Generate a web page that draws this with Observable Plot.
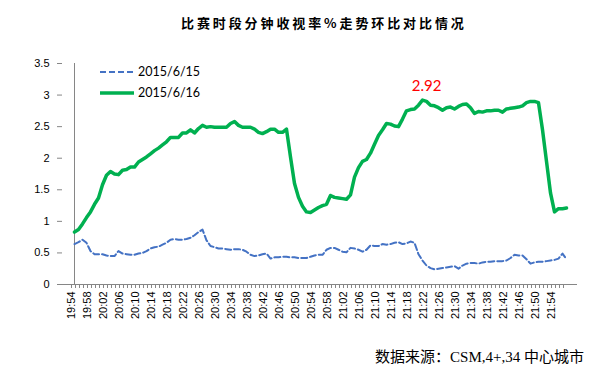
<!DOCTYPE html>
<html><head><meta charset="utf-8">
<script src="https://cdn.jsdelivr.net/npm/d3@7"></script>
<script src="https://cdn.jsdelivr.net/npm/@observablehq/plot@0.6"></script>
<style>
body{margin:0;background:#fff;}
#wrap{position:relative;width:594px;height:372px;overflow:hidden;font-family:"Liberation Sans",Arial,sans-serif;}
#wrap svg.chart{position:absolute;left:0;top:0;}
#title{position:absolute;left:181px;top:13px;font-family:"Noto Sans CJK SC",sans-serif;font-weight:bold;font-size:13px;letter-spacing:2.9px;color:#000;white-space:nowrap;}
#legend{position:absolute;left:100px;top:61px;font-family:Lato,"Liberation Sans",sans-serif;font-size:12.5px;color:#000;}
#legend .row{display:flex;align-items:center;height:21px;}
#legend svg{margin-right:4px;}
#caption{position:absolute;right:10px;top:345px;font-family:"Liberation Serif","Noto Sans CJK SC",serif;font-size:15px;color:#000;white-space:nowrap;}
</style></head><body>
<div id="wrap">
  <div id="title">比赛时段分钟收视率%走势环比对比情况</div>
  <div id="caption">数据来源：CSM,4+,34 中心城市</div>
</div>
<script>
const startTime = "19:54";
const seriesNames = ["2015/6/15", "2015/6/16"];
const seriesColors = ["#4472C4", "#00B050"];
const yTicks = [0, 0.5, 1, 1.5, 2, 2.5, 3, 3.5];
const xTickLabels = ["19:54","19:58","20:02","20:06","20:10","20:14","20:18","20:22","20:26","20:30","20:34","20:38","20:42","20:46","20:50","20:54","20:58","21:02","21:06","21:10","21:14","21:18","21:22","21:26","21:30","21:34","21:38","21:42","21:46","21:50","21:54"];

const values0615 = [
0.64,0.67,0.71,0.66,0.53,0.48,0.48,0.48,0.46,0.45,
0.45,0.53,0.49,0.48,0.47,0.47,0.49,0.50,0.53,0.57,
0.59,0.60,0.63,0.66,0.71,0.72,0.71,0.71,0.72,0.74,
0.78,0.83,0.87,0.70,0.61,0.59,0.57,0.57,0.56,0.55,
0.56,0.56,0.55,0.52,0.47,0.45,0.46,0.48,0.49,0.41,
0.43,0.43,0.44,0.44,0.43,0.43,0.42,0.42,0.42,0.44,
0.46,0.47,0.47,0.55,0.58,0.58,0.55,0.52,0.51,0.58,
0.57,0.55,0.52,0.55,0.62,0.61,0.61,0.64,0.63,0.64,
0.66,0.67,0.64,0.65,0.68,0.66,0.48,0.38,0.30,0.26,
0.24,0.25,0.26,0.27,0.28,0.29,0.25,0.30,0.33,0.34,
0.34,0.33,0.35,0.36,0.36,0.37,0.37,0.37,0.38,0.42,
0.47,0.46,0.46,0.40,0.33,0.35,0.36,0.36,0.37,0.38,
0.39,0.41,0.49,0.40];

const values0616 = [
0.83,0.87,0.96,1.06,1.15,1.27,1.37,1.58,1.73,1.79,
1.75,1.74,1.81,1.82,1.86,1.86,1.94,1.98,2.02,2.07,
2.12,2.16,2.21,2.26,2.33,2.33,2.33,2.40,2.40,2.45,
2.40,2.47,2.52,2.49,2.50,2.49,2.49,2.49,2.49,2.55,
2.58,2.52,2.49,2.49,2.49,2.46,2.41,2.39,2.42,2.46,
2.46,2.41,2.41,2.46,2.02,1.60,1.38,1.24,1.15,1.14,
1.18,1.22,1.25,1.27,1.41,1.38,1.37,1.36,1.35,1.42,
1.70,1.85,1.95,1.98,2.08,2.22,2.36,2.45,2.55,2.54,
2.51,2.50,2.62,2.75,2.77,2.78,2.84,2.92,2.90,2.84,
2.83,2.80,2.76,2.80,2.81,2.78,2.82,2.85,2.86,2.80,
2.71,2.74,2.73,2.75,2.75,2.76,2.76,2.73,2.78,2.79,
2.80,2.81,2.83,2.88,2.90,2.90,2.88,2.45,1.95,1.45,
1.15,1.20,1.20,1.21];

// category labels (minutes) starting at startTime
const [h0, m0] = startTime.split(":").map(Number);
const times = values0616.map((_, i) => {
  const m = h0 * 60 + m0 + i;
  return `${Math.floor(m / 60)}:${String(m % 60).padStart(2, "0")}`;
});

const data = [];
times.forEach((t, i) => {
  data.push({time: t, value: values0615[i], series: seriesNames[0]});
  data.push({time: t, value: values0616[i], series: seriesNames[1]});
});
const d15 = data.filter(d => d.series === seriesNames[0]);
const d16 = data.filter(d => d.series === seriesNames[1]);
const peak = d16.reduce((a, b) => (b.value > a.value ? b : a));

const chart = Plot.plot({
  width: 594,
  height: 340,
  marginLeft: 62,
  marginRight: 17,
  marginTop: 63,
  marginBottom: 56,
  style: {fontFamily: "'Liberation Sans', Arial, sans-serif", fontSize: "11px", color: "#000", background: "transparent"},
  x: {type: "point", domain: times, padding: 0},
  y: {domain: [0, 3.5]},
  marks: [
    Plot.axisY({ticks: yTicks, tickSize: 5, tickPadding: 8, tickFormat: d => String(d), stroke: "#868686", fill: "#000", label: null}),
    Plot.axisX({ticks: times, tickSize: 4, tickPadding: 3, tickRotate: -90, tickFormat: d => xTickLabels.includes(d) ? d : "", stroke: "#868686", fill: "#000", label: null, textStroke: "none", dx: -3}),
    Plot.ruleY([0], {stroke: "#868686"}),
    Plot.ruleX([times[0]], {stroke: "#868686"}),
    Plot.lineY(d15, {x: "time", y: "value", stroke: seriesColors[0], strokeWidth: 2, strokeDasharray: "6,3"}),
    Plot.lineY(d16, {x: "time", y: "value", stroke: seriesColors[1], strokeWidth: 3.5, strokeLinejoin: "round"}),
    Plot.text([peak], {x: "time", y: "value", text: d => d.value.toFixed(2), dy: -14, dx: 4, fill: "#FF0000", fontSize: 15, fontFamily: "Lato, 'Liberation Sans', sans-serif"})
  ]
});
chart.classList.add("chart");
const wrap = document.getElementById("wrap");
wrap.insertBefore(chart, wrap.firstChild);

// legend
const legend = document.createElement("div");
legend.id = "legend";
seriesNames.forEach((name, i) => {
  const row = document.createElement("div");
  row.className = "row";
  const dash = i === 0 ? 'stroke-dasharray="6,3"' : "";
  const sw = i === 0 ? 2 : 3.5;
  row.innerHTML = `<svg width="34" height="8"><line x1="0" x2="34" y1="4" y2="4" stroke="${seriesColors[i]}" stroke-width="${sw}" ${dash}/></svg><span>${name}</span>`;
  legend.appendChild(row);
});
wrap.appendChild(legend);
</script>
</body></html>
